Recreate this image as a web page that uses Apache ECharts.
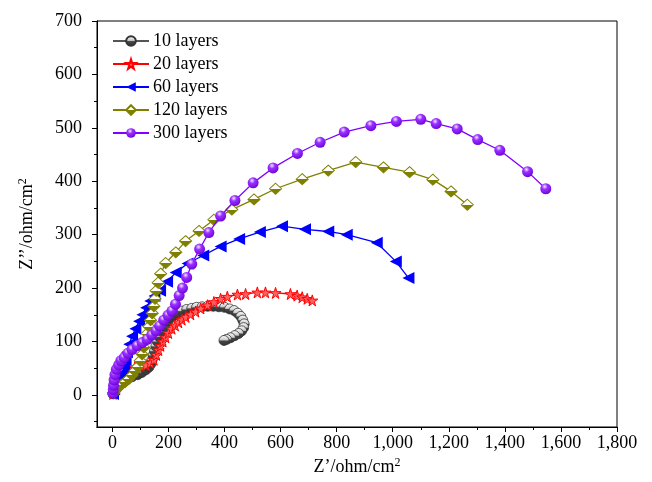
<!DOCTYPE html>
<html><head><meta charset="utf-8">
<script src="https://cdn.jsdelivr.net/npm/echarts@6/dist/echarts.min.js"></script>
<style>html,body{margin:0;padding:0;background:#fff}#c{width:652px;height:482px}</style>
</head><body><div id="c"></div>
<script>
const seriesNames = ['10 layers','20 layers','60 layers','120 layers','300 layers'];
const xTickValues = [0,200,400,600,800,1000,1200,1400,1600,1800];
const xMinorValues = [100,300,500,700,900,1100,1300,1500,1700];
const yTickValues = [0,100,200,300,400,500,600,700];
const yMinorValues = [-50,50,150,250,350,450,550,650];

const layers10 = [[2,2],[8,8],[18,15],[32,22],[50,28],[70,34],[90,38],[105,42],[119,47],[130,52],[137,58],[141,65],[145,74],[150,82],[155,91],[161,100],[167,109],[176,119],[185,128],[196,137],[208,144],[220,149],[232,153],[249,157],[265,160],[283,162],[300,164],[320,165],[340,166],[360,166],[380,165],[400,164],[418,161],[434,158],[447,153],[458,147],[465,140],[470,133],[468,126],[461,120],[450,115],[436,111],[421,107],[407,104],[398,102]];
const layers20 = [[2,2],[8,10],[18,20],[30,30],[45,40],[60,48],[80,52],[100,55],[120,56],[135,60],[148,66],[157,75],[165,84],[172,92],[180,100],[190,108],[200,116],[212,124],[224,130],[236,136],[248,141],[262,146],[279,151],[297,156],[315,162],[339,168],[362,174],[386,180],[410,184],[446,188],[475,189],[517,192],[546,192],[582,191],[635,189],[659,186],[677,183],[695,180],[713,177]];
const layers60 = [[2,2],[6,10],[12,20],[22,30],[33,40],[42,52],[47,66],[52,80],[60,95],[70,110],[82,124],[95,138],[107,150],[120,163],[135,176],[150,185],[170,195],[195,212],[226,229],[268,246],[324,261],[386,278],[452,292],[526,305],[605,316],[687,310],[770,306],[836,300],[943,285],[1011,250],[1056,219]];
const layers120 = [[5,3],[10,8],[20,14],[32,19],[45,24],[58,30],[70,37],[80,45],[90,53],[99,64],[106,76],[112,89],[118,102],[124,115],[130,128],[136,140],[142,153],[148,166],[152,180],[156,195],[163,210],[172,227],[190,247],[226,267],[261,288],[309,307],[362,328],[426,347],[505,366],[582,386],[677,404],[770,420],[868,436],[967,426],[1060,417],[1143,403],[1208,381],[1266,356]];
const layers300 = [[2,3],[3,10],[4,18],[6,28],[9,38],[14,48],[22,56],[30,64],[42,70],[55,78],[70,85],[88,92],[106,98],[124,104],[140,112],[155,120],[168,129],[183,140],[198,149],[212,157],[225,170],[238,186],[250,200],[265,220],[283,245],[311,273],[344,304],[386,335],[437,364],[502,397],[573,425],[660,452],[741,473],[827,492],[922,504],[1013,512],[1100,516],[1155,508],[1230,498],[1303,478],[1382,458],[1481,418],[1546,386]];

const FONT = '"Liberation Serif","Times New Roman",serif';
const STAR = 'path://M50,0 L61,35 L98,35 L68,57 L79,91 L50,70 L21,91 L32,57 L2,35 L39,35 Z';

function sphere(light, mid, dark){
  return {type:'radial', x:0.4, y:0.3, r:0.75, colorStops:[
    {offset:0,color:light},{offset:0.35,color:mid},{offset:1,color:dark}]};
}
const halfDiamond = {type:'linear', x:0,y:0,x2:0,y2:1, colorStops:[
  {offset:0,color:'#ffffff'},{offset:0.5,color:'#ffffff'},{offset:0.5,color:'#808000'},{offset:1,color:'#808000'}]};

const styles = [
  {data:layers10, line:'#555555', symbol:'circle', size:10, rotate:0,
   item:{color:{type:'linear',x:0,y:0,x2:0,y2:1,colorStops:[{offset:0,color:'#ffffff'},{offset:0.45,color:'#cccccc'},{offset:0.55,color:'#444444'},{offset:1,color:'#333333'}]}, borderColor:'#333', borderWidth:0.8}},
  {data:layers20, line:'#ff0000', symbol:STAR, size:11, rotate:0,
   item:{color:'#ff6060', borderColor:'#ff0000', borderWidth:1}},
  {data:layers60, line:'#0000ff', symbol:'triangle', size:12, rotate:90,
   item:{color:'#0000ff', borderColor:'#0000ff', borderWidth:0}},
  {data:layers120, line:'#808000', symbol:'diamond', size:[12,11], rotate:0,
   item:{color:halfDiamond, borderColor:'#808000', borderWidth:1}},
  {data:layers300, line:'#8000ff', symbol:'circle', size:11, rotate:0,
   item:{color:sphere('#f4e8ff','#9a30ff','#6a00d8'), borderWidth:0}}
];

const chart = echarts.init(document.getElementById('c'), null, {renderer:'canvas'});
const richName = {a:{fontFamily:FONT,fontSize:18,color:'#000'}, s:{fontFamily:FONT,fontSize:12,color:'#000',verticalAlign:'top',padding:[0,0,8,0]}};
const lineStyleBlack = {color:'#000', width:1};
const gridBox = {left:97, right:35, top:21, bottom:55};
chart.setOption({
  animation:false,
  backgroundColor:'#fff',
  grid:[
    Object.assign({show:true, borderColor:'#000', borderWidth:1, containLabel:false}, gridBox),
    Object.assign({show:false, containLabel:false}, gridBox)
  ],
  legend:{
    orient:'vertical', left:107, top:27, itemGap:5, itemWidth:36, itemHeight:12,
    textStyle:{fontFamily:FONT, fontSize:18, color:'#000', padding:[0,0,0,-1]},
    data:seriesNames
  },
  xAxis:[
    {
      gridIndex:0, type:'value', min:-55, max:1800, position:'bottom',
      axisLine:{show:true, onZero:false, lineStyle:lineStyleBlack},
      splitLine:{show:false},
      name:'{a|Z’/ohm/cm}{s|2}', nameLocation:'middle', nameGap:30,
      nameTextStyle:{rich:richName},
      axisTick:{show:true, length:5, inside:false, customValues:xTickValues, lineStyle:{color:'#000'}},
      axisLabel:{customValues:xTickValues, fontFamily:FONT, fontSize:18, color:'#000', margin:7,
        formatter:v=>v.toLocaleString('en-US')}
    },
    {gridIndex:1, type:'value', min:-55, max:1800, position:'bottom',
     axisLine:{show:true, onZero:false, lineStyle:lineStyleBlack}, splitLine:{show:false},
     axisLabel:{show:false},
     axisTick:{show:true, length:3, customValues:xMinorValues, lineStyle:{color:'#000'}}}
  ],
  yAxis:[
    {
      gridIndex:0, type:'value', min:-60, max:700, position:'left',
      axisLine:{show:true, onZero:false, lineStyle:lineStyleBlack},
      splitLine:{show:false},
      name:'{a|Z’’/ohm/cm}{s|2}', nameLocation:'middle', nameGap:60, nameRotate:90,
      nameTextStyle:{rich:richName},
      axisTick:{show:true, length:5, customValues:yTickValues, lineStyle:{color:'#000'}},
      axisLabel:{customValues:yTickValues, fontFamily:FONT, fontSize:18, color:'#000', margin:15}
    },
    {gridIndex:1, type:'value', min:-60, max:700, position:'left',
     axisLine:{show:true, onZero:false, lineStyle:lineStyleBlack}, splitLine:{show:false},
     axisLabel:{show:false},
     axisTick:{show:true, length:3, customValues:yMinorValues, lineStyle:{color:'#000'}}}
  ],
  series: styles.map((s,i)=>({
    name:seriesNames[i], type:'line', xAxisIndex:0, yAxisIndex:0,
    data:s.data, symbol:s.symbol, symbolSize:s.size, symbolRotate:s.rotate,
    showAllSymbol:true, smooth:false,
    lineStyle:{color:s.line, width:1.3},
    itemStyle:s.item,
    z:2+i
  }))
});
</script></body></html>
